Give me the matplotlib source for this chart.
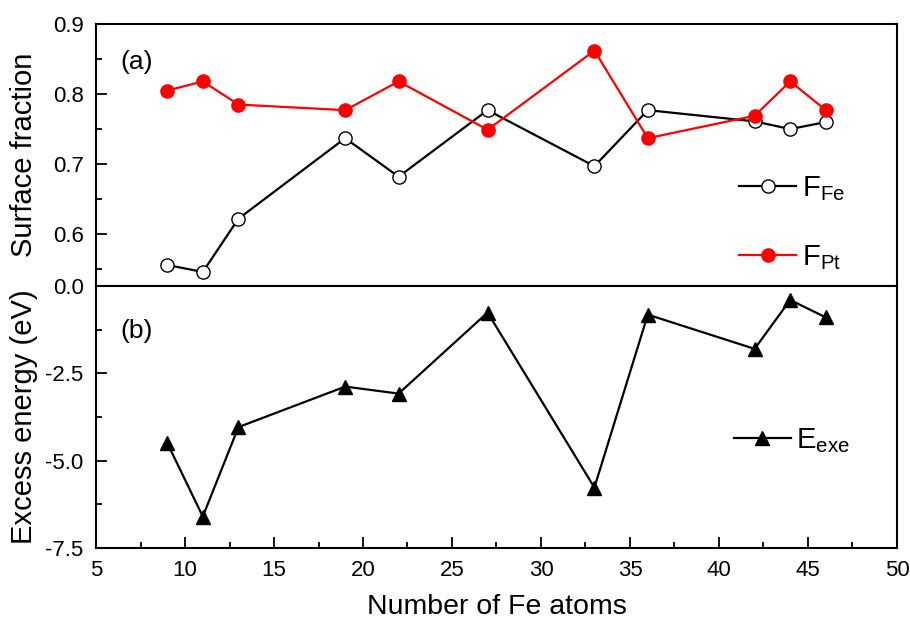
import matplotlib
matplotlib.use("Agg")
import matplotlib.pyplot as plt
from matplotlib.ticker import MultipleLocator

plt.rcParams['font.family'] = ['Liberation Sans', 'DejaVu Sans']
plt.rcParams['mathtext.default'] = 'regular'

# data
n_fe = [9, 11, 13, 19, 22, 27, 33, 36, 42, 44, 46]
f_fe = [0.556, 0.546, 0.622, 0.737, 0.682, 0.777, 0.697, 0.777, 0.761, 0.750, 0.760]
f_pt = [0.805, 0.818, 0.785, 0.777, 0.818, 0.749, 0.862, 0.737, 0.769, 0.818, 0.777]
e_exe = [-4.49, -6.60, -4.04, -2.88, -3.08, -0.76, -5.77, -0.82, -1.80, -0.40, -0.90]

fig = plt.figure(figsize=(9.1, 6.28), dpi=100)
ax1 = fig.add_axes([0.1055, 0.5446, 0.8802, 0.4172])
ax2 = fig.add_axes([0.1055, 0.1274, 0.8802, 0.4172], sharex=ax1)

ax1.plot(n_fe, f_fe, '-o', color='black', mfc='white', mec='black', ms=9.5, lw=1.6, mew=1.0,
         label='F$_{Fe}$')
ax1.plot(n_fe, f_pt, '-o', color='red', mfc='red', mec='red', ms=9.5, lw=1.6, label='F$_{Pt}$')
ax2.plot(n_fe, e_exe, '-^', color='black', ms=10, lw=1.6, label='E$_{exe}$')

ax1.set_xlim(5, 50)
ax1.set_ylim(0.526, 0.9)
ax2.set_ylim(-7.5, 0)

ax1.yaxis.set_major_locator(MultipleLocator(0.1))
ax1.yaxis.set_minor_locator(MultipleLocator(0.05))
ax2.yaxis.set_major_locator(MultipleLocator(2.5))
ax2.yaxis.set_minor_locator(MultipleLocator(1.25))
ax2.xaxis.set_major_locator(MultipleLocator(5))
ax2.xaxis.set_minor_locator(MultipleLocator(2.5))

ax1.yaxis.set_major_formatter(plt.FuncFormatter(lambda v, p: f"{v:.1f}"))
ax2.yaxis.set_major_formatter(plt.FuncFormatter(lambda v, p: f"{v:.1f}"))

for ax in (ax1, ax2):
    for s in ax.spines.values():
        s.set_linewidth(1.5)
    ax.tick_params(which='both', direction='in', width=1.3, labelsize=16, pad=9,
                   top=False, right=False)
    ax.tick_params(which='major', length=8)
    ax.tick_params(which='minor', length=4.5)
ax1.tick_params(axis='x', which='both', bottom=False, labelbottom=False)

ax1.set_ylabel("Surface fraction", fontsize=21)
ax2.set_ylabel("Excess energy (eV)", fontsize=21)
ax1.yaxis.set_label_coords(-0.073, 0.5)
ax2.yaxis.set_label_coords(-0.073, 0.5)
ax2.set_xlabel("Number of Fe atoms", fontsize=20.5, labelpad=9)

ax1.text(0.03, 0.83, "(a)", transform=ax1.transAxes, fontsize=19)
ax2.text(0.03, 0.80, "(b)", transform=ax2.transAxes, fontsize=19)

ax1.legend(loc='center left', bbox_to_anchor=(0.785, 0.24), frameon=False, fontsize=21,
           borderpad=0, handlelength=1.95, handletextpad=0.2, labelspacing=1.35)
ax2.legend(loc='center left', bbox_to_anchor=(0.778, 0.41), frameon=False, fontsize=21,
           borderpad=0, handlelength=1.95, handletextpad=0.2)

fig.savefig("out.png", dpi=100)
